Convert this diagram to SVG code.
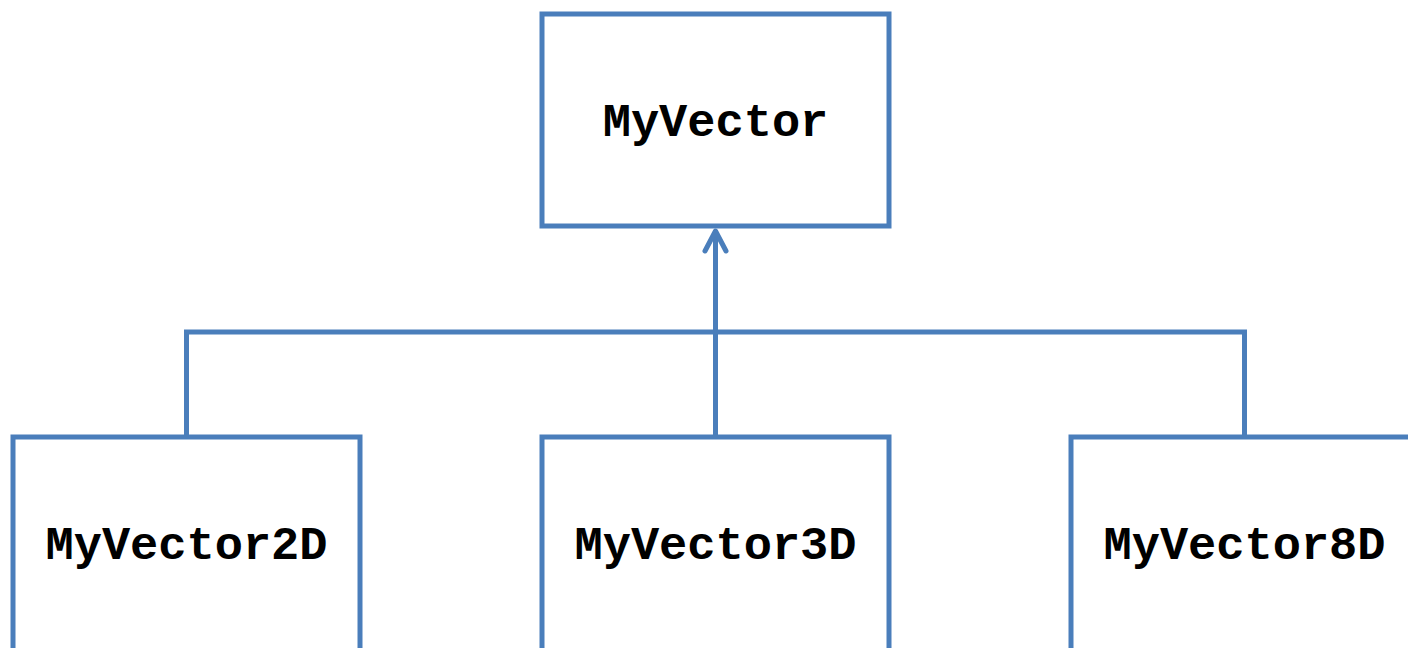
<svg xmlns="http://www.w3.org/2000/svg" width="1408" height="648" viewBox="0 0 1408 648">
<style>
.box{fill:#fff;stroke:#4a7ebb;stroke-width:5}
.lbl{font-family:"Liberation Mono","Courier New",monospace;font-weight:bold;font-size:47px;fill:#000;text-anchor:middle}
.conn{fill:none;stroke:#4a7ebb;stroke-width:5}
</style>
<rect width="1408" height="648" fill="#fff"/>
<g id="connectors">
<polyline class="conn" points="186.5,437 186.5,332 1244.5,332 1244.5,437"/>
<line class="conn" x1="715.5" y1="437" x2="715.5" y2="230"/>
<polyline class="conn" points="705,251 715.5,231 726,251" stroke-linecap="round" stroke-linejoin="round"/>
</g>
<g id="MyVector">
<rect class="box" x="542" y="14" width="347" height="212"/>
<text class="lbl" x="715.5" y="136">MyVector</text>
</g>
<g id="MyVector2D">
<rect class="box" x="13" y="437" width="347" height="240"/>
<text class="lbl" x="186.5" y="559">MyVector2D</text>
</g>
<g id="MyVector3D">
<rect class="box" x="542" y="437" width="347" height="240"/>
<text class="lbl" x="715.5" y="559">MyVector3D</text>
</g>
<g id="MyVector8D">
<rect class="box" x="1071" y="437" width="347" height="240"/>
<text class="lbl" x="1244.5" y="559">MyVector8D</text>
</g>
</svg>
